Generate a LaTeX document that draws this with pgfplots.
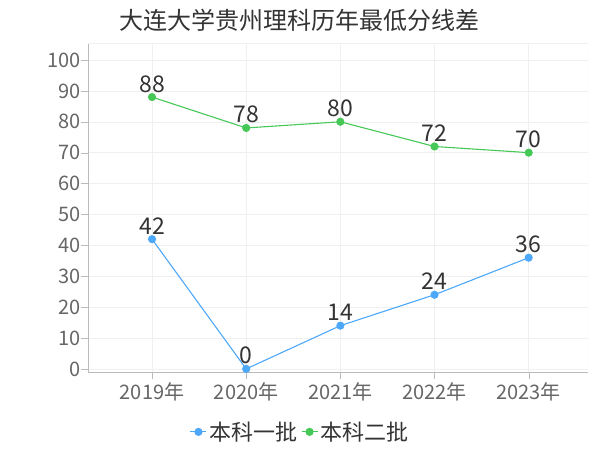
\documentclass[border=0pt]{standalone}
\usepackage{pgfplots}
\pgfplotsset{compat=1.18}
\usepackage{fontspec}
\setmainfont{Noto Sans CJK SC}
\definecolor{blueS}{HTML}{4DA8FA}
\definecolor{greenS}{HTML}{46C857}
\definecolor{tickgray}{HTML}{666666}
\definecolor{labelgray}{HTML}{333333}
\definecolor{gridgray}{HTML}{F0F0F0}
\definecolor{axisgray}{HTML}{BBBBBB}

\begin{document}
\begin{tikzpicture}
\path[use as bounding box] (0,0) rectangle (600bp,450bp);
\node[font=\fontsize{24bp}{28bp}\selectfont, text=labelgray] at (299bp,430bp) {大连大学贵州理科历年最低分线差};
\begin{axis}[
  at={(88bp,78bp)}, anchor=south west,
  scale only axis, width=500bp, height=329bp,
  xmin=-0.68, xmax=4.63, ymin=-1, ymax=105.5,
  axis lines=left, axis line style={axisgray, -},
  xtick={0,...,4}, xticklabels={2019年,2020年,2021年,2022年,2023年},
  ytick={0,10,...,100},
  tick align=outside, tick style={axisgray}, major tick length=7bp,
  grid=major, grid style={gridgray},
  ticklabel style={font=\fontsize{20bp}{23bp}\selectfont, text=tickgray},
  yticklabel style={xshift=3bp},
  /pgf/number format/assume math mode=true,
  nodes near coords,
  every node near coord/.append style={font=\fontsize{23bp}{26bp}\selectfont, text=labelgray, anchor=base, inner sep=0pt, yshift=5bp},
  legend columns=2,
  legend style={draw=none, fill=none, at={(0.424,-0.182)}, anchor=center,
    font=\fontsize{22bp}{26bp}\selectfont, text=labelgray,
    /tikz/every even column/.append style={column sep=2bp}},
  legend image code/.code={\draw[mark repeat=2,mark phase=2] plot coordinates {(0bp,0bp) (8bp,0bp) (16bp,0bp)};},
]
\draw[gridgray] (rel axis cs:0,1) -- (rel axis cs:1,1) -- (rel axis cs:1,0);
\addplot[blueS, line width=1.1bp, mark=*, mark size=3.5bp] coordinates {(0,42) (1,0) (2,14) (3,24) (4,36)};
\addlegendentry{本科一批}
\addplot[greenS, line width=1.1bp, mark=*, mark size=3.5bp] coordinates {(0,88) (1,78) (2,80) (3,72) (4,70)};
\addlegendentry{本科二批}
\end{axis}
\end{tikzpicture}
\end{document}
